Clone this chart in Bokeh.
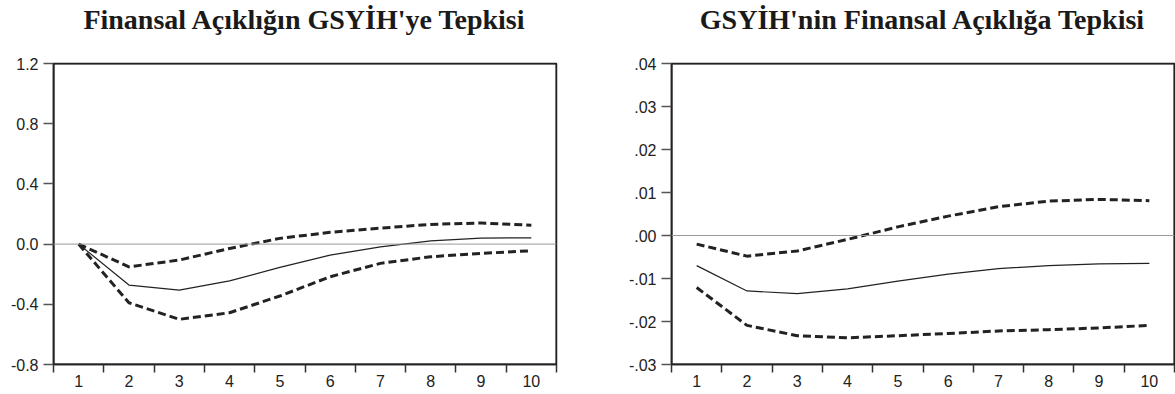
from bokeh.plotting import figure
from bokeh.layouts import row, column
from bokeh.models import FixedTicker, Span, BoxAnnotation
from bokeh.core.properties import value
from bokeh.embed import file_html
from bokeh.resources import INLINE

periods = [1, 2, 3, 4, 5, 6, 7, 8, 9, 10]

# Left panel: Finansal Açıklığın GSYİH'ye Tepkisi
left_resp = [0.0, -0.272, -0.306, -0.244, -0.155, -0.073, -0.018, 0.022, 0.040, 0.042]
left_upper = [0.0, -0.151, -0.106, -0.029, 0.038, 0.078, 0.106, 0.131, 0.140, 0.126]
left_lower = [0.0, -0.390, -0.500, -0.456, -0.345, -0.217, -0.128, -0.084, -0.062, -0.044]
left_yticks = [-0.8, -0.4, 0.0, 0.4, 0.8, 1.2]
left_ylabels = ["-0.8", "-0.4", "0.0", "0.4", "0.8", "1.2"]

# Right panel: GSYİH'nin Finansal Açıklığa Tepkisi
right_resp = [-0.0070, -0.0129, -0.0135, -0.0124, -0.0106, -0.0090, -0.0077, -0.0070, -0.0066, -0.0065]
right_upper = [-0.0020, -0.0048, -0.0036, -0.0009, 0.0020, 0.0045, 0.0067, 0.0080, 0.0084, 0.0081]
right_lower = [-0.0121, -0.0209, -0.0233, -0.0238, -0.0233, -0.0228, -0.0222, -0.0219, -0.0215, -0.0209]
right_yticks = [-0.03, -0.02, -0.01, 0.0, 0.01, 0.02, 0.03, 0.04]
right_ylabels = ["-.03", "-.02", "-.01", ".00", ".01", ".02", ".03", ".04"]

titles = ["Finansal Açıklığın GSYİH'ye Tepkisi", "GSYİH'nin Finansal Açıklığa Tepkisi"]

TITLE_H = 45


def make_title(title, width, bl, br):
    t = figure(width=width, height=TITLE_H, x_range=(0.5, 10.5), y_range=(0, TITLE_H),
               output_backend="svg", toolbar_location=None,
               x_axis_location=None, y_axis_location=None,
               min_border_left=bl, min_border_right=br, min_border_top=0, min_border_bottom=0)
    t.grid.visible = False
    t.outline_line_color = None
    t.text(x=[5.5], y=[26], text=[title], text_align="center", text_baseline="alphabetic",
           text_font=value("Liberation Serif"), text_font_style="bold",
           text_font_size="28px", text_color="#1a1a1a")
    return t


def make_panel(resp, upper, lower, yticks, ylabels, width, bl, br):
    p = figure(width=width, height=394 - TITLE_H, x_range=(0.5, 10.5),
               y_range=(yticks[0], yticks[-1]), output_backend="svg",
               toolbar_location=None, min_border_left=bl, min_border_right=br,
               min_border_top=63 - TITLE_H, min_border_bottom=30)
    p.grid.visible = False
    p.outline_line_color = "#222222"
    p.outline_line_width = 1.5
    p.outline_line_alpha = 1

    p.xaxis.ticker = FixedTicker(ticks=periods, minor_ticks=[i + 0.5 for i in range(0, 11)])
    p.xaxis.major_tick_out = 0
    p.xaxis.major_tick_in = 0
    p.xaxis.minor_tick_out = 8
    p.xaxis.minor_tick_in = 0
    p.xaxis.minor_tick_line_color = "#333333"
    p.xaxis.minor_tick_line_width = 1.5
    p.xaxis.major_label_standoff = 2

    p.yaxis.ticker = FixedTicker(ticks=yticks, minor_ticks=[])
    p.yaxis.major_label_overrides = {t: l for t, l in zip(yticks, ylabels)}
    p.yaxis.major_tick_out = 10
    p.yaxis.major_tick_in = 0
    p.yaxis.major_tick_line_color = "#555555"
    p.yaxis.major_tick_line_width = 1.5
    p.yaxis.major_label_standoff = 5

    for ax in (p.xaxis, p.yaxis):
        ax.axis_line_color = "#222222"
        ax.axis_line_width = 1.5
        ax.major_label_text_font = "Liberation Sans"
        ax.major_label_text_font_size = "16px"
        ax.major_label_text_color = "#222222"

    p.add_layout(BoxAnnotation(fill_alpha=0, line_color="#222222", line_width=2, line_alpha=1))
    p.add_layout(Span(location=0, dimension="width", line_color="#999999", line_width=1))
    p.line(periods, resp, line_color="#222222", line_width=1.2)
    p.line(periods, upper, line_color="#222222", line_width=3, line_dash="8 4")
    p.line(periods, lower, line_color="#222222", line_width=3, line_dash="8 4")
    return p


t1 = make_title(titles[0], 611, 53, 55)
t2 = make_title(titles[1], 564, 60, 1)
p1 = make_panel(left_resp, left_upper, left_lower, left_yticks, left_ylabels, 611, 53, 55)
p2 = make_panel(right_resp, right_upper, right_lower, right_yticks, right_ylabels, 564, 60, 1)

layout = column(row(t1, t2), row(p1, p2))
open("out.html", "w").write(file_html(layout, INLINE))
